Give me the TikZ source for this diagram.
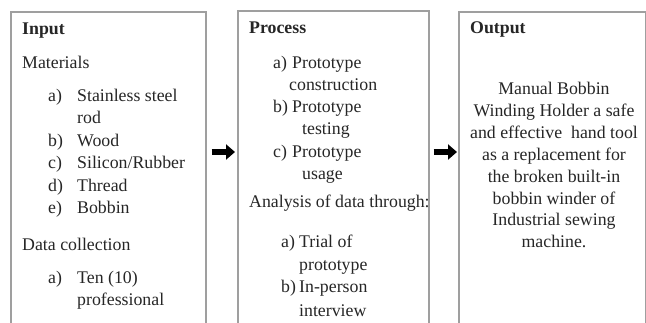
\documentclass[tikz,border=0pt]{standalone}
\usepackage{fontspec}
\setmainfont{Liberation Serif}
\usetikzlibrary{arrows.meta}
\begin{document}
\begin{tikzpicture}[x=1pt,y=-1pt,
  box/.style={draw=gray!75, line width=1.6pt, rectangle, inner sep=0pt, anchor=north west, fill=white},
  txt/.style={anchor=base west, inner sep=0pt, text=black!85, font=\fontsize{17.8}{22}\selectfont},
  ttl/.style={txt, font=\fontsize{17.8}{22}\selectfont\bfseries},
  ctr/.style={anchor=base, inner sep=0pt, text=black!85, font=\fontsize{17.8}{22}\selectfont},
  blockarrow/.style={line width=6pt, black, -{Triangle[length=9pt,width=15pt]}}
]
\useasboundingbox (0,0) rectangle (646,322);
\clip (0,0) rectangle (646,322);
\fill[white] (0,0) rectangle (646,322);
% boxes
\node[box, minimum width=195pt, minimum height=330pt] (inbox) at (10,11) {};
\node[box, minimum width=191pt, minimum height=330pt] (procbox) at (237,10) {};
\node[box, minimum width=187pt, minimum height=330pt] (outbox) at (458,11) {};
% arrows
\coordinate (ay) at (0,152);
\draw[blockarrow, shorten <=5pt, shorten >=2pt] (inbox.east |- ay) -- (procbox.west |- ay);
\draw[blockarrow, shorten <=4pt, shorten >=1pt] (procbox.east |- ay) -- (outbox.west |- ay);
% Input
\node[ttl] (t1) at (22,34) {Input};
\node[txt] (i1) at (22,68) {Materials};
\node[txt] (i2a) at (48,101) {a)};
\node[txt] (i2) at (77,101) {Stainless steel};
\node[txt] (i3) at (77,123.5) {rod};
\node[txt] (i4a) at (48,146) {b)};
\node[txt] (i4) at (77,146) {Wood};
\node[txt] (i5a) at (48,168.5) {c)};
\node[txt] (i5) at (77,168.5) {Silicon/Rubber};
\node[txt] (i6a) at (48,191) {d)};
\node[txt] (i6) at (77,191) {Thread};
\node[txt] (i7a) at (48,213.5) {e)};
\node[txt] (i7) at (77,213.5) {Bobbin};
\node[txt] (i8) at (22,250) {Data collection};
\node[txt] (i9a) at (48,283) {a)};
\node[txt] (i9) at (77,283) {Ten (10)};
\node[txt] (i10) at (77,305) {professional};
% Process
\node[ttl] (t2) at (249,33) {Process};
\node[txt] (p1a) at (273,68) {a)};
\node[txt] (p1) at (292,68) {Prototype};
\node[txt] (p2) at (289,90) {construction};
\node[txt] (p3a) at (273,112) {b)};
\node[txt] (p3) at (292,112) {Prototype};
\node[txt] (p4) at (302,134) {testing};
\node[txt] (p5a) at (273,157) {c)};
\node[txt] (p5) at (292,157) {Prototype};
\node[txt] (p6) at (302,179) {usage};
\node[txt] (p7) at (249,207) {Analysis of data through:};
\node[txt] (p8a) at (281,247) {a)};
\node[txt] (p8) at (299,247) {Trial of};
\node[txt] (p9) at (299,270) {prototype};
\node[txt] (p10a) at (281,292) {b)};
\node[txt] (p10) at (299,292) {In-person};
\node[txt] (p11) at (299,316) {interview};
% Output
\node[ttl] (t3) at (470,33) {Output};
\node[ctr] (o1) at (554,94) {Manual Bobbin};
\node[ctr] (o2) at (554,116) {Winding Holder a safe};
\node[ctr] (o3) at (554,138) {and effective\ \ hand tool};
\node[ctr] (o4) at (554,160) {as a replacement for};
\node[ctr] (o5) at (554,182) {the broken built-in};
\node[ctr] (o6) at (554,204) {bobbin winder of};
\node[ctr] (o7) at (554,225.5) {Industrial sewing};
\node[ctr] (o8) at (554,247) {machine.};
\end{tikzpicture}
\end{document}
